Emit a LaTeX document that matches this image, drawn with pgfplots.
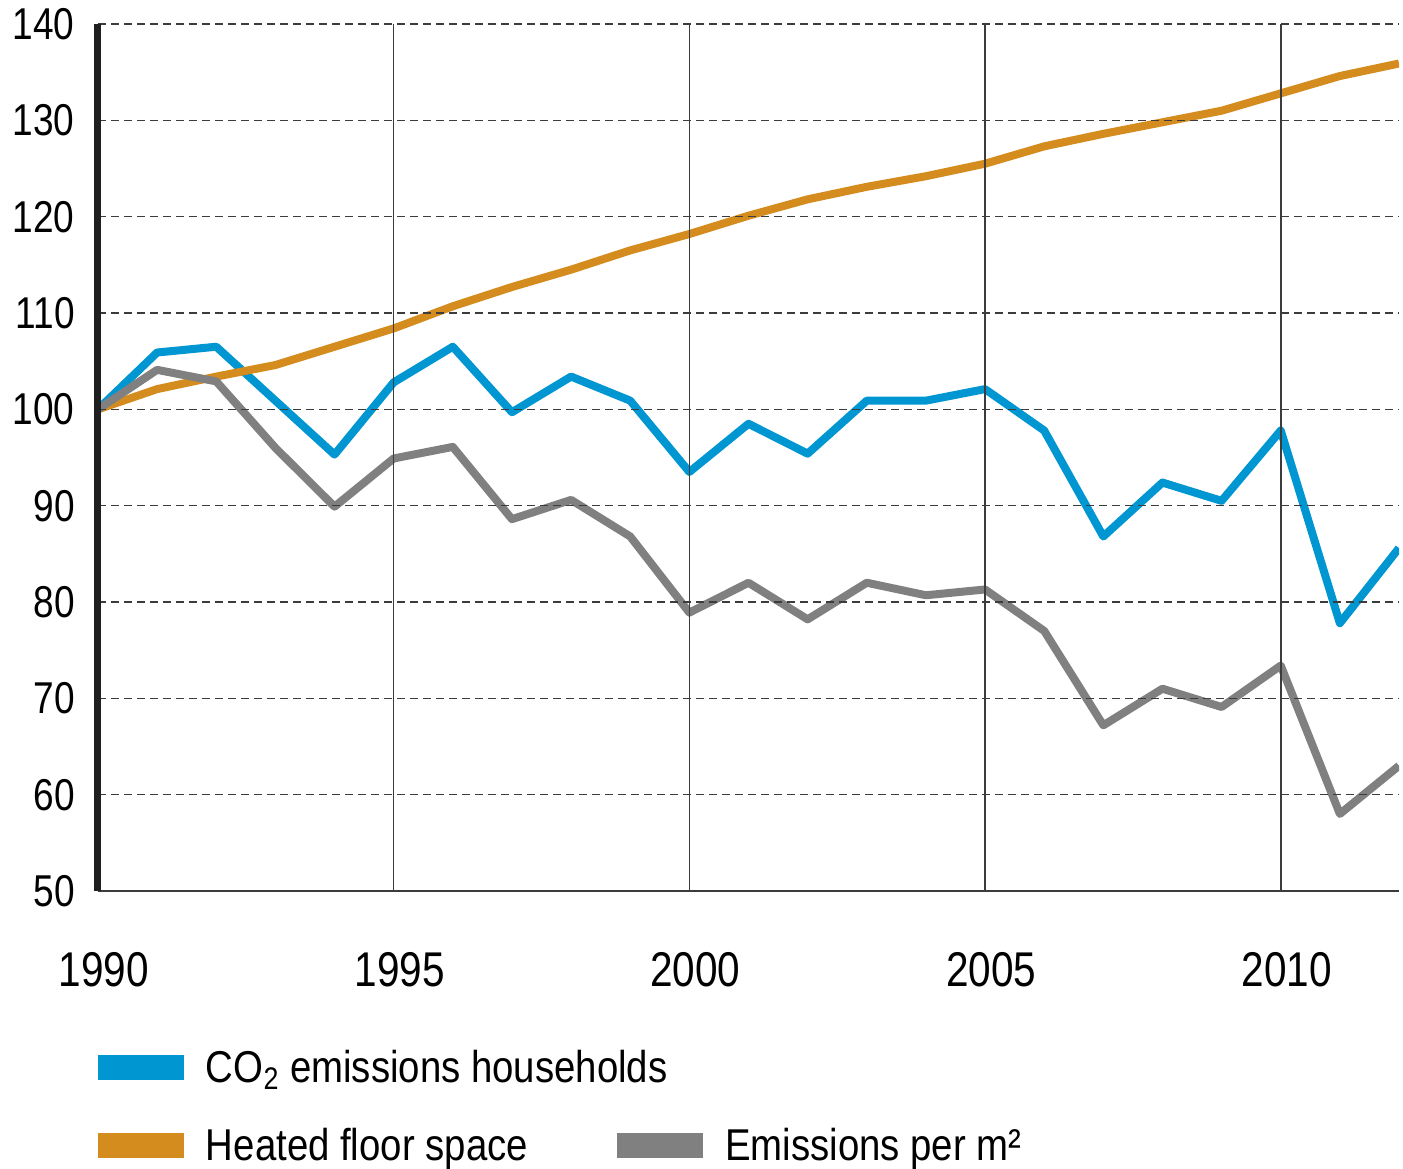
\documentclass[border=0pt]{standalone}
\usepackage{fontspec}
\setmainfont{Liberation Sans}[FakeStretch=0.83]
\newfontfamily\legfont{Liberation Sans}[FakeStretch=0.86]
\usepackage{pgfplots}
\usepackage{pgfplotstable}
\pgfplotsset{compat=1.18}
\definecolor{co2blue}{RGB}{0,150,210}
\definecolor{floororange}{RGB}{213,140,30}
\definecolor{emgray}{RGB}{128,128,128}
\definecolor{gridgray}{RGB}{60,60,60}

\pgfplotstableread{
year co2 floor perm
1990 100.0 100.0 100.0
1991 105.9 102.1 104.1
1992 106.5 103.4 102.9
1993 100.9 104.6 96.0
1994 95.3 106.5 89.9
1995 102.8 108.4 94.9
1996 106.5 110.7 96.1
1997 99.7 112.7 88.6
1998 103.4 114.5 90.6
1999 100.9 116.5 86.8
2000 93.5 118.2 78.9
2001 98.5 120.1 82.0
2002 95.4 121.8 78.2
2003 100.9 123.1 82.0
2004 100.9 124.2 80.7
2005 102.1 125.5 81.3
2006 97.8 127.3 77.0
2007 86.8 128.6 67.2
2008 92.4 129.8 71.0
2009 90.5 131.0 69.1
2010 97.8 132.8 73.4
2011 77.8 134.6 58.0
2012 85.6 135.9 63.0
}\datatable

\pgfplotsset{
  mylegend/.style={
    legend image code/.code={\fill[##1, draw=none, line width=0pt] (0pt,1pt) rectangle (43pt,13.5pt);},
    legend style={draw=none, fill=none, inner sep=0pt, outer sep=0pt,
      column sep=11pt, row sep=18pt,
      font=\legfont\fontsize{22.3}{24}\selectfont,
      nodes={inner sep=0pt, outer sep=0pt, text height=16pt, text depth=5pt, anchor=base west},
      legend cell align=left},
  },
  mybase/.style={
    scale only axis, width=650.5pt, height=433.5pt,
    at={(0,0)}, anchor=south west,
    xmin=1990, xmax=2012, ymin=50, ymax=140,
  }
}

\begin{document}
\begin{tikzpicture}
\useasboundingbox (-49pt,-138.5pt) rectangle (652.5pt,445.5pt);
\begin{axis}[
  mybase, mylegend,
  xtick={1990,1995,2000,2005,2010}, ytick={50,60,...,140},
  axis x line=bottom, axis y line=left,
  x axis line style={-, draw=gridgray, line width=1pt},
  y axis line style={-, draw=black!88, line width=3.5pt},
  major tick length=0pt,
  xmajorgrids, ymajorgrids,
  x grid style={draw=gridgray, line width=0.8pt},
  y grid style={draw=gridgray, line width=0.75pt, dash pattern=on 4pt off 2.5pt},
  axis on top,
  /pgf/number format/assume math mode=true,
  /pgf/number format/1000 sep={},
  xticklabel style={font=\fontsize{24.4}{26}\selectfont, inner sep=0pt, anchor=north, yshift=-30.5pt, xshift=3pt},
  yticklabel style={font=\fontsize{22.3}{24}\selectfont, inner sep=0pt, anchor=east, xshift=-11.5pt},
  legend style={at={(0,-0.1834)}, anchor=north west},
  legend entries={CO\textsubscript{2} emissions households, Heated floor space},
]
\addplot[color=co2blue, line width=4pt, line join=round] table[x=year, y=co2] {\datatable};
\addplot[color=floororange, line width=4pt, line join=round] table[x=year, y=floor] {\datatable};
\addplot[color=emgray, line width=4pt, line join=round] table[x=year, y=perm] {\datatable};
\end{axis}
\begin{axis}[
  mybase, mylegend, hide axis,
  legend style={at={(0.399,-0.2734)}, anchor=north west},
]
\addplot[draw=none, forget plot] coordinates {(1990,50)};
\addlegendimage{color=emgray, line width=4pt}
\addlegendentry{Emissions per m²}
\end{axis}
\end{tikzpicture}
\end{document}
